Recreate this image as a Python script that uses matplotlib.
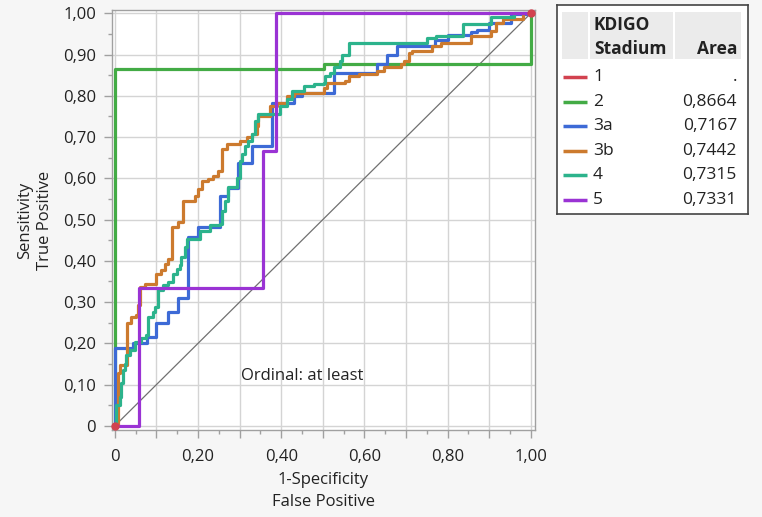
import matplotlib
matplotlib.use("Agg")
import matplotlib.pyplot as plt
from matplotlib.patches import Rectangle
from matplotlib.ticker import MultipleLocator, FuncFormatter

plt.rcParams['font.family'] = ['Open Sans', 'DejaVu Sans']

# ---- data (corner points of ROC step curves: x = 1-specificity, y = sensitivity) ----
red_fpr = [0.0, 1.0]
red_tpr = [0.0, 1.0]

green_fpr = [0.0, 0.0, 0.502, 1.0]
green_tpr = [0.0, 0.864, 0.877, 1.0]

blue_fpr = [0.0, 0.0, 0.044, 0.077, 0.10, 0.128, 0.152, 0.176, 0.20, 0.253, 0.273, 0.296,
            0.33, 0.378, 0.43, 0.45, 0.526, 0.63, 0.655, 0.679, 0.77, 0.80, 0.855, 0.87,
            0.90, 0.952, 1.0]
blue_tpr = [0.0, 0.189, 0.20, 0.215, 0.25, 0.275, 0.31, 0.457, 0.483, 0.558, 0.577, 0.638,
            0.679, 0.783, 0.80, 0.807, 0.856, 0.876, 0.90, 0.92, 0.935, 0.948, 0.955, 0.96,
            0.977, 0.998, 1.0]

orange_fpr = [0.0, 0.008, 0.012, 0.03, 0.04, 0.052, 0.056, 0.06, 0.072, 0.10, 0.112, 0.12,
              0.128, 0.137, 0.152, 0.165, 0.193, 0.20, 0.209, 0.225, 0.237, 0.249, 0.257,
              0.269, 0.301, 0.317, 0.329, 0.341, 0.345, 0.373, 0.39, 0.414, 0.43, 0.502,
              0.51, 0.554, 0.562, 0.586, 0.63, 0.647, 0.687, 0.695, 0.707, 0.715, 0.763,
              0.783, 0.855, 0.904, 0.916, 0.932, 0.98, 1.0]
orange_tpr = [0.0, 0.128, 0.147, 0.25, 0.264, 0.268, 0.292, 0.336, 0.345, 0.369, 0.377, 0.393,
              0.405, 0.481, 0.494, 0.546, 0.558, 0.574, 0.594, 0.599, 0.606, 0.618, 0.671,
              0.683, 0.691, 0.699, 0.707, 0.727, 0.751, 0.775, 0.783, 0.80, 0.807, 0.82,
              0.832, 0.836, 0.848, 0.853, 0.86, 0.869, 0.876, 0.884, 0.904, 0.908, 0.92,
              0.928, 0.945, 0.957, 0.977, 0.986, 1.0, 1.0]

teal_fpr = [0.0, 0.004, 0.012, 0.016, 0.02, 0.024, 0.028, 0.036, 0.048, 0.064, 0.076, 0.08,
            0.092, 0.096, 0.104, 0.116, 0.128, 0.14, 0.149, 0.157, 0.16, 0.169, 0.174, 0.205,
            0.229, 0.253, 0.257, 0.265, 0.273, 0.293, 0.301, 0.305, 0.313, 0.321, 0.329,
            0.337, 0.345, 0.398, 0.414, 0.426, 0.454, 0.478, 0.502, 0.506, 0.518, 0.526,
            0.542, 0.546, 0.562, 0.751, 0.771, 0.836, 0.904, 0.96, 1.0]
teal_tpr = [0.0, 0.051, 0.071, 0.103, 0.135, 0.151, 0.171, 0.184, 0.204, 0.212, 0.22, 0.264,
            0.276, 0.288, 0.329, 0.341, 0.349, 0.369, 0.381, 0.39, 0.41, 0.433, 0.453, 0.473,
            0.486, 0.49, 0.522, 0.546, 0.578, 0.602, 0.643, 0.659, 0.679, 0.691, 0.707,
            0.739, 0.755, 0.775, 0.792, 0.812, 0.824, 0.829, 0.832, 0.848, 0.856, 0.869,
            0.884, 0.90, 0.927, 0.941, 0.945, 0.973, 0.99, 1.0, 1.0]

purple_fpr = [0.0, 0.058, 0.357, 0.388, 1.0]
purple_tpr = [0.0, 0.333, 0.667, 1.0, 1.0]

legend_labels = ['1', '2', '3a', '3b', '4', '5']
legend_areas = ['.', '0,8664', '0,7167', '0,7442', '0,7315', '0,7331']
colors = ['#d2424f', '#43ab45', '#3d6ad6', '#cc7a2e', '#2cb38c', '#9a33d4']

FS = 12
LFS = 12.5

# ---- figure ----
W, H = 762, 517
fig = plt.figure(figsize=(W / 100, H / 100), dpi=100, facecolor='#f6f6f6')

L, R, T, B = 111.5, 535, 10, 430
ax = fig.add_axes([L / W, 1 - B / H, (R - L) / W, (B - T) / H])
ax.set_facecolor('white')
ax.set_xlim(-0.008, 1.01)
ax.set_ylim(-0.01, 1.008)

ax.xaxis.set_major_locator(MultipleLocator(0.1))
ax.xaxis.set_minor_locator(MultipleLocator(0.05))
ax.yaxis.set_major_locator(MultipleLocator(0.1))
ax.yaxis.set_minor_locator(MultipleLocator(0.05))


def fmt(v, pos):
    if abs(v) < 1e-9:
        return '0'
    return ('%.2f' % v).replace('.', ',')


def fmt_x(v, pos):
    k = int(round(v * 10))
    if k % 2 != 0:
        return ''
    return fmt(v, pos)


ax.xaxis.set_major_formatter(FuncFormatter(fmt_x))
ax.yaxis.set_major_formatter(FuncFormatter(fmt))
ax.grid(True, which='major', color='#d4d4d4', lw=1.0)
ax.set_axisbelow(True)
for s in ax.spines.values():
    s.set_color('#a0a0a0')
    s.set_linewidth(1.0)
ax.tick_params(which='major', length=6, width=1, color='#a0a0a0', labelsize=FS,
               labelcolor='#222222', pad=5)
ax.tick_params(axis='x', which='major', pad=8)
ax.tick_params(which='minor', length=3, width=1, color='#a0a0a0')

# diagonal
ax.plot([0, 1], [0, 1], color='#707070', lw=0.9, zorder=2)

lw = 2.3
ax.plot(green_fpr, green_tpr, drawstyle='steps-post', color=colors[1], lw=lw, zorder=3)
ax.plot(blue_fpr, blue_tpr, drawstyle='steps-post', color=colors[2], lw=lw, zorder=4)
ax.plot(orange_fpr, orange_tpr, drawstyle='steps-post', color=colors[3], lw=lw, zorder=5)
ax.plot(teal_fpr, teal_tpr, drawstyle='steps-post', color=colors[4], lw=lw, zorder=6)
ax.plot(purple_fpr, purple_tpr, drawstyle='steps-post', color=colors[5], lw=lw, zorder=7)
ax.plot(red_fpr, red_tpr, linestyle='none', marker='o', ms=5, color=colors[0], zorder=8,
        clip_on=False)

ax.text(0.45, 0.122, 'Ordinal: at least', ha='center', va='center', fontsize=FS,
        color='#222222')

ax.set_xlabel('1-Specificity\nFalse Positive', fontsize=FS, color='#222222', labelpad=5,
              linespacing=1.5)
ax.set_ylabel('Sensitivity\nTrue Positive', fontsize=FS, color='#222222', labelpad=7,
              linespacing=1.35)

# ---- legend table ----
lx0, lx1, ly0, ly1 = 557, 748, 5, 214
lg = fig.add_axes([lx0 / W, 1 - ly1 / H, (lx1 - lx0) / W, (ly1 - ly0) / H])
lg.set_xlim(lx0, lx1)
lg.set_ylim(ly1, ly0)
lg.set_facecolor('white')
for s in lg.spines.values():
    s.set_color('#444444')
    s.set_linewidth(1.2)
lg.set_xticks([])
lg.set_yticks([])

for (a, b) in [(562, 588), (590, 673), (675, 741)]:
    lg.add_patch(Rectangle((a, 12), b - a, 47, facecolor='#ebebeb', edgecolor='none'))
lg.text(594, 25, 'KDIGO', fontsize=LFS, fontweight='bold', ha='left', va='center',
        color='#222222')
lg.text(594, 49, 'Stadium', fontsize=LFS, fontweight='bold', ha='left', va='center',
        color='#222222')
lg.text(737, 49, 'Area', fontsize=LFS, fontweight='bold', ha='right', va='center',
        color='#222222')

for i, (lab, area) in enumerate(zip(legend_labels, legend_areas)):
    yy = 77 + 24.6 * i
    lg.plot([563, 587], [yy, yy], color=colors[i], lw=2.5, solid_capstyle='butt')
    lg.text(593, yy, lab, fontsize=LFS, ha='left', va='center', color='#222222')
    lg.text(737, yy, area, fontsize=LFS, ha='right', va='center', color='#222222')

fig.savefig('out.png', dpi=100, facecolor=fig.get_facecolor())
